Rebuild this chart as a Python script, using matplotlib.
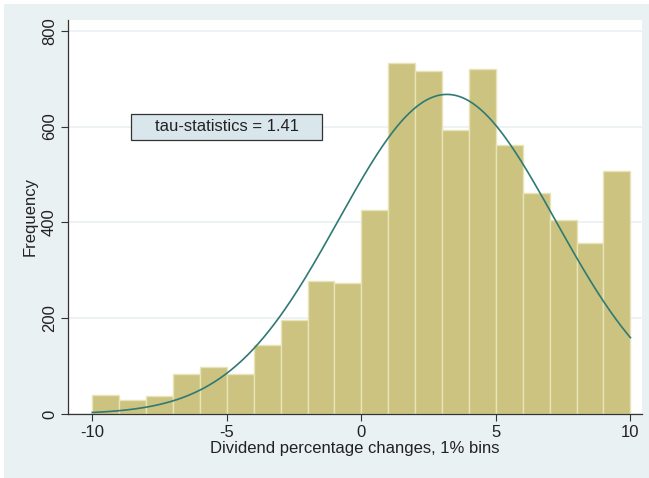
import matplotlib.pyplot as plt
import matplotlib.patches as mpatches
import numpy as np

plt.rcParams['font.family'] = ['Liberation Sans', 'DejaVu Sans']
plt.rcParams['axes.unicode_minus'] = False

# --- Histogram data: dividend percentage changes, 1% bins ---
bin_edges = list(range(-10, 11))
counts = [39, 29, 37, 83, 99, 84, 143, 196, 278, 273,
          426, 733, 715, 592, 720, 561, 461, 404, 357, 508]

# Normal overlay parameters (mean, sd) of the changes
mu = 3.18
sigma = 4.03

tau_text = 'tau-statistics = 1.41'

fig = plt.figure(figsize=(6.49, 4.78), dpi=100, facecolor='white')
# light background panel behind the plot region
fig.patches.append(mpatches.Rectangle((4 / 649, 0), 1, 1 - 4 / 478,
                                      transform=fig.transFigure,
                                      facecolor='#eaf1f3', edgecolor='none',
                                      zorder=-10))

ax = fig.add_axes([68 / 649, 1 - 414 / 478, (641.7 - 68) / 649, (414 - 20) / 478])
ax.set_facecolor('white')

widths = np.diff(bin_edges)
ax.bar(bin_edges[:-1], counts, width=widths, align='edge',
       color='#cbc37f', edgecolor='#e9e4b8', linewidth=1.0, zorder=2)

# normal density scaled to frequency
n_total = sum(counts)
xs = np.linspace(-10, 10, 400)
ys = n_total * 1.0 / (sigma * np.sqrt(2 * np.pi)) * np.exp(-0.5 * ((xs - mu) / sigma) ** 2)
ax.plot(xs, ys, color='#2f7a74', linewidth=1.2, zorder=3)

ax.set_xlim(-10.903, 10.42)
ax.set_ylim(0, 822.3)
ax.set_xticks([-10, -5, 0, 5, 10])
ax.set_yticks([0, 200, 400, 600, 800])
ax.set_yticklabels(['0', '200', '400', '600', '800'], rotation=90, va='center')
ax.tick_params(axis='both', labelsize=12, length=5, width=0.8,
               color='#333333', labelcolor='#222222', pad=3)

ax.yaxis.grid(True, color='#eaf1f3', linewidth=1.2, zorder=0)
ax.set_axisbelow(True)

for side in ['top', 'right']:
    ax.spines[side].set_visible(False)
for side in ['left', 'bottom']:
    ax.spines[side].set_color('#333333')
    ax.spines[side].set_linewidth(0.9)

ax.set_xlabel('Dividend percentage changes, 1% bins', fontsize=12, color='#222222', labelpad=1)
ax.set_ylabel('Frequency', fontsize=12, color='#222222', labelpad=3)

# text box for the statistic
ax.add_patch(mpatches.Rectangle((-5 - 3.55, 572), 7.1, 54, facecolor='#d9e6ec',
                                edgecolor='#333333', linewidth=0.9, zorder=4))
ax.text(-5, 599, tau_text, ha='center', va='center', fontsize=12, color='#222222',
        zorder=5)

fig.savefig('out.png', dpi=100, facecolor=fig.get_facecolor())
